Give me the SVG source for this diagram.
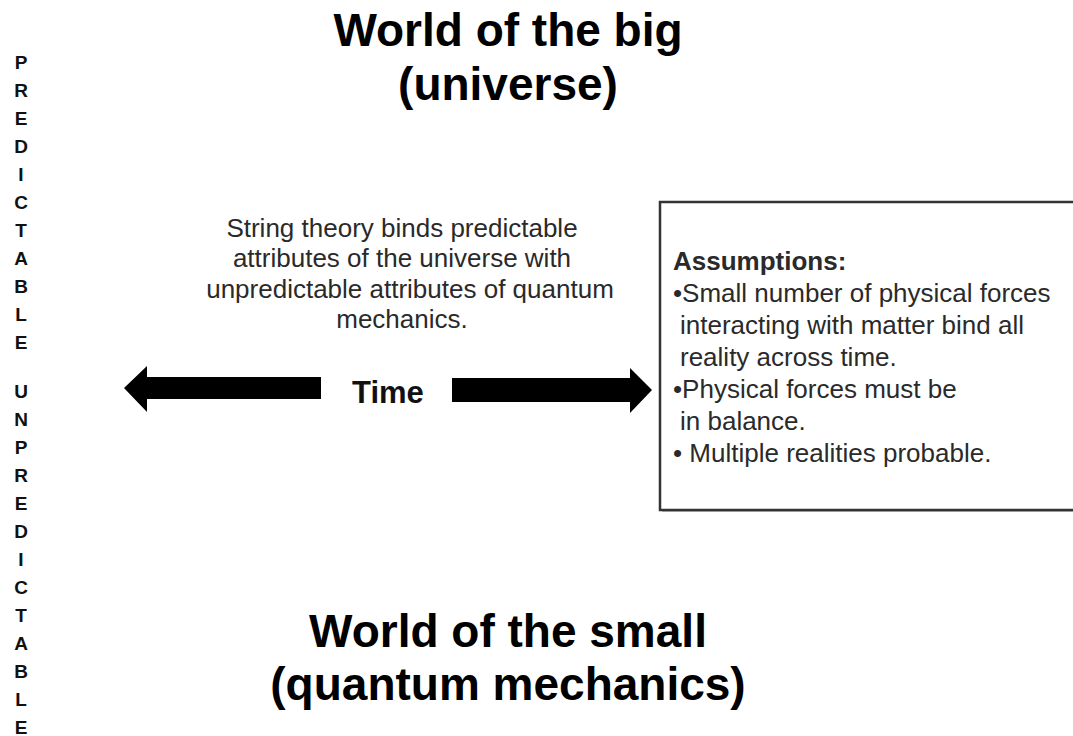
<svg xmlns="http://www.w3.org/2000/svg" width="1073" height="736" viewBox="0 0 1073 736">
<style>
.title{font-family:"Liberation Sans",Arial,sans-serif;font-weight:bold;font-size:46px;fill:#000;text-anchor:middle}
.vert{font-family:"Liberation Sans",Arial,sans-serif;font-weight:bold;font-size:19px;fill:#111;text-anchor:middle}
.body{font-family:"Liberation Sans",Arial,sans-serif;font-size:26px;fill:#2a2a2a}
.bold{font-weight:bold}
.arrow{fill:#000}
</style>
<rect width="1073" height="736" fill="#fff"/>
<g id="side-label">
<text class="vert" x="21" y="69">P</text>
<text class="vert" x="21" y="97">R</text>
<text class="vert" x="21" y="125">E</text>
<text class="vert" x="21" y="153">D</text>
<text class="vert" x="21" y="181">I</text>
<text class="vert" x="21" y="209">C</text>
<text class="vert" x="21" y="237">T</text>
<text class="vert" x="21" y="265">A</text>
<text class="vert" x="21" y="293">B</text>
<text class="vert" x="21" y="321">L</text>
<text class="vert" x="21" y="349">E</text>
<text class="vert" x="21" y="398">U</text>
<text class="vert" x="21" y="426">N</text>
<text class="vert" x="21" y="454">P</text>
<text class="vert" x="21" y="482">R</text>
<text class="vert" x="21" y="510">E</text>
<text class="vert" x="21" y="538">D</text>
<text class="vert" x="21" y="566">I</text>
<text class="vert" x="21" y="594">C</text>
<text class="vert" x="21" y="622">T</text>
<text class="vert" x="21" y="650">A</text>
<text class="vert" x="21" y="678">B</text>
<text class="vert" x="21" y="706">L</text>
<text class="vert" x="21" y="734">E</text>
</g>
<g id="title-big">
<text class="title" x="508" y="46">World of the big</text>
<text class="title" x="508" y="100">(universe)</text>
</g>
<g id="title-small">
<text class="title" x="508" y="647">World of the small</text>
<text class="title" x="508" y="700">(quantum mechanics)</text>
</g>
<g id="string-theory">
<text class="body" text-anchor="middle" x="402" y="237">String theory binds predictable</text>
<text class="body" text-anchor="middle" x="402" y="267">attributes of the universe with</text>
<text class="body" text-anchor="middle" x="410" y="298">unpredictable attributes of quantum</text>
<text class="body" text-anchor="middle" x="402" y="328">mechanics.</text>
</g>
<g id="time">
<text class="body bold" style="fill:#111;font-size:31px" x="352" y="403">Time</text>
</g>
<g id="connectors">
<polygon class="arrow" points="124,388 147,366 147,377 321,377 321,399 147,399 147,412"/>
<polygon class="arrow" points="652,390 630,368 630,378 452,378 452,402 630,402 630,413"/>
</g>
<g id="assumptions">
<rect x="662" y="204" width="420" height="308" fill="#bbb"/>
<rect x="660" y="202" width="420" height="308" fill="#fff" stroke="#333" stroke-width="2.5"/>
<text class="body bold" x="673" y="270">Assumptions:</text>
<text class="body" x="673" y="302">•Small number of physical forces</text>
<text class="body" x="680" y="334">interacting with matter bind all</text>
<text class="body" x="680" y="366">reality across time.</text>
<text class="body" x="673" y="398">•Physical forces must be</text>
<text class="body" x="680" y="430">in balance.</text>
<text class="body" x="673" y="462">• Multiple realities probable.</text>
</g>
</svg>
